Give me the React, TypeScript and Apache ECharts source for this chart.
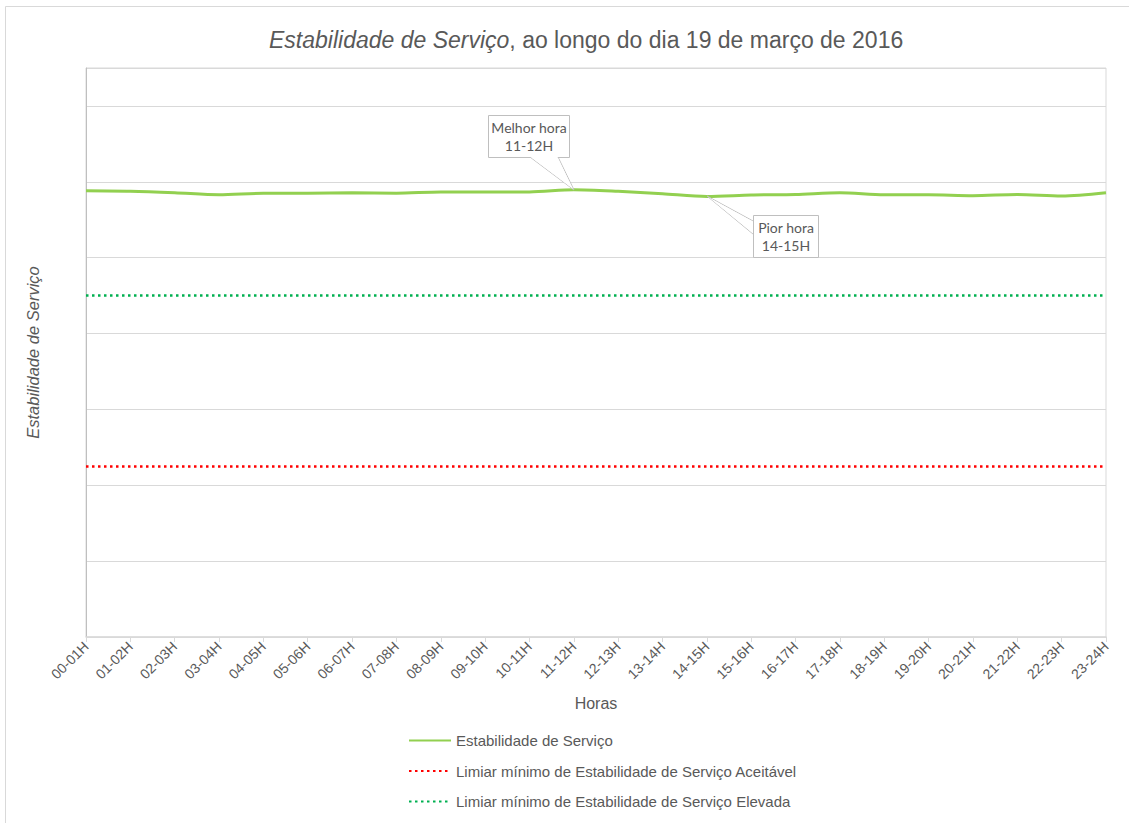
import React, { useEffect, useRef } from "react";
import * as echarts from "echarts";

const HOURS = [
  "00-01H", "01-02H", "02-03H", "03-04H", "04-05H", "05-06H", "06-07H", "07-08H",
  "08-09H", "09-10H", "10-11H", "11-12H", "12-13H", "13-14H", "14-15H", "15-16H",
  "16-17H", "17-18H", "18-19H", "19-20H", "20-21H", "21-22H", "22-23H", "23-24H",
];

const STABILITY = [
  5.882, 5.876, 5.856, 5.829, 5.849, 5.849, 5.855, 5.849,
  5.866, 5.866, 5.866, 5.895, 5.875, 5.843, 5.807, 5.826,
  5.833, 5.855, 5.829, 5.829, 5.816, 5.833, 5.812, 5.855,
];

const THRESHOLD_ACCEPTABLE = 2.25;
const THRESHOLD_HIGH = 4.5;

const Y_MIN = 0;
const Y_MAX = 7.5;
const Y_INTERVAL = 1;

const SERIES_NAMES = [
  "Estabilidade de Serviço",
  "Limiar mínimo de Estabilidade de Serviço Aceitável",
  "Limiar mínimo de Estabilidade de Serviço Elevada",
];

const TEXT_COLOR = "#595959";
const FONT = "'Liberation Sans', Arial, sans-serif";
const CALLOUT_FONT = "Lato, 'Open Sans', sans-serif";

export default function App() {
  const ref = useRef<HTMLDivElement>(null);

  useEffect(() => {
    if (!ref.current) return;
    const chart = echarts.init(ref.current, undefined, { renderer: "svg" });

    chart.setOption({
      animation: false,
      backgroundColor: "#ffffff",
      grid: {
        left: 86,
        right: 23,
        top: 68,
        bottom: 186,
        show: true,
        borderColor: "#d9d9d9",
        borderWidth: 1,
      },
      xAxis: {
        type: "category",
        data: HOURS,
        boundaryGap: false,
        name: "Horas",
        nameLocation: "middle",
        nameGap: 58,
        nameTextStyle: { color: TEXT_COLOR, fontSize: 16, fontFamily: FONT },
        axisLine: { show: true, lineStyle: { color: "#d9d9d9", width: 1.5 } },
        axisTick: { show: true, length: 5, lineStyle: { color: "#d9d9d9" } },
        axisLabel: {
          rotate: 45,
          color: TEXT_COLOR,
          fontSize: 14,
          fontFamily: FONT,
          margin: 7,
          interval: 0,
        },
        splitLine: { show: false },
      },
      yAxis: {
        type: "value",
        min: Y_MIN,
        max: Y_MAX,
        interval: Y_INTERVAL,
        name: "Estabilidade de Serviço",
        nameLocation: "middle",
        nameRotate: 90,
        nameGap: 45,
        nameTextStyle: {
          color: TEXT_COLOR,
          fontSize: 16.5,
          fontStyle: "italic",
          fontFamily: FONT,
        },
        axisLine: { show: true, lineStyle: { color: "#bfbfbf", width: 1 } },
        axisTick: { show: false },
        axisLabel: { show: false },
        splitLine: { show: true, lineStyle: { color: "#d9d9d9", width: 1 } },
      },
      legend: {
        orient: "vertical",
        left: 408,
        top: 733,
        padding: 0,
        itemWidth: 42,
        itemHeight: 14,
        itemGap: 15.5,
        itemStyle: { opacity: 0 },
        textStyle: { color: TEXT_COLOR, fontSize: 15, fontFamily: FONT },
        data: SERIES_NAMES.map((n) => ({ name: n })),
      },
      series: [
        {
          name: SERIES_NAMES[0],
          type: "line",
          data: STABILITY,
          smooth: 0.3,
          symbol: "none",
          lineStyle: { color: "#92d050", width: 3 },
          itemStyle: { color: "#92d050" },
        },
        {
          name: SERIES_NAMES[1],
          type: "line",
          data: [],
          symbol: "none",
          lineStyle: { color: "#ff0000", width: 2.5, type: [2.5, 3.5] },
          itemStyle: { color: "#ff0000" },
          markLine: {
            silent: true,
            symbol: "none",
            label: { show: false },
            lineStyle: { color: "#ff0000", width: 2.5, type: [2.5, 3.5] },
            data: [{ yAxis: THRESHOLD_ACCEPTABLE }],
          },
        },
        {
          name: SERIES_NAMES[2],
          type: "line",
          data: [],
          symbol: "none",
          lineStyle: { color: "#00b050", width: 2.5, type: [2.5, 3.5] },
          itemStyle: { color: "#00b050" },
          markLine: {
            silent: true,
            symbol: "none",
            label: { show: false },
            lineStyle: { color: "#00b050", width: 2.5, type: [2.5, 3.5] },
            data: [{ yAxis: THRESHOLD_HIGH }],
          },
        },
      ],
    });

    // locate best / worst hour from the data
    let best = 0;
    let worst = 0;
    STABILITY.forEach((v, i) => {
      if (v > STABILITY[best]) best = i;
      if (v < STABILITY[worst]) worst = i;
    });
    const pb = chart.convertToPixel({ xAxisIndex: 0, yAxisIndex: 0 }, [best, STABILITY[best]]) as number[];
    const pw = chart.convertToPixel({ xAxisIndex: 0, yAxisIndex: 0 }, [worst, STABILITY[worst]]) as number[];

    const boxStyle = { fill: "#ffffff", stroke: "#bfbfbf", lineWidth: 1 };
    const calloutText = (x: number, y: number, text: string) => ({
      type: "text",
      x,
      y,
      style: {
        text,
        fill: TEXT_COLOR,
        fontSize: 14,
        fontFamily: CALLOUT_FONT,
        align: "center",
        verticalAlign: "middle",
        lineHeight: 18,
      },
      z: 101,
    });

    const bx = Math.round(pb[0]);
    const by = Math.round(pb[1]);
    const wx = Math.round(pw[0]);
    const wy = Math.round(pw[1]);

    chart.setOption({
      graphic: [
        {
          type: "rect",
          shape: { x: 5.5, y: 6.5, width: 1140, height: 840 },
          style: { fill: "none", stroke: "#d9d9d9", lineWidth: 1 },
          silent: true,
          z: -1,
        },
        {
          type: "text",
          x: 269,
          y: 40,
          style: {
            text: "{i|Estabilidade de Serviço}{n|, ao longo do dia 19 de março de 2016}",
            verticalAlign: "middle",
            rich: {
              i: { fontSize: 23, fontStyle: "italic", fill: TEXT_COLOR, fontFamily: FONT },
              n: { fontSize: 23, fill: TEXT_COLOR, fontFamily: FONT },
            },
          },
        },
        // best hour callout
        {
          type: "polyline",
          shape: { points: [[bx - 44, by - 33], [bx, by], [bx - 16, by - 33]] },
          style: { stroke: "#bfbfbf", fill: "#ffffff", lineWidth: 1 },
          z: 100,
        },
        {
          type: "rect",
          shape: { x: bx - 86 + 0.5, y: by - 75 + 0.5, width: 81, height: 42 },
          style: boxStyle,
          z: 100,
        },
        {
          type: "polygon",
          shape: { points: [[bx - 43.5, by - 33], [bx - 1, by - 1], [bx - 16.5, by - 33]] },
          style: { fill: "#ffffff", stroke: "none" },
          z: 100,
        },
        calloutText(bx - 45, by - 63, "Melhor hora"),
        calloutText(bx - 45, by - 45, HOURS[best]),
        // worst hour callout
        {
          type: "polyline",
          shape: { points: [[wx + 46, wy + 25], [wx, wy], [wx + 46, wy + 38]] },
          style: { stroke: "#bfbfbf", fill: "#ffffff", lineWidth: 1 },
          z: 100,
        },
        {
          type: "rect",
          shape: { x: wx + 46 + 0.5, y: wy + 19 + 0.5, width: 65, height: 42 },
          style: boxStyle,
          z: 100,
        },
        {
          type: "polygon",
          shape: { points: [[wx + 46, wy + 25.5], [wx + 2, wy + 1.5], [wx + 46, wy + 37.5]] },
          style: { fill: "#ffffff", stroke: "none" },
          z: 100,
        },
        calloutText(wx + 79, wy + 31, "Pior hora"),
        calloutText(wx + 79, wy + 49, HOURS[worst]),
      ],
    });

    return () => chart.dispose();
  }, []);

  return (
    <div
      ref={ref}
      style={{ position: "fixed", left: 0, top: 0, width: 1129, height: 823 }}
    />
  );
}
